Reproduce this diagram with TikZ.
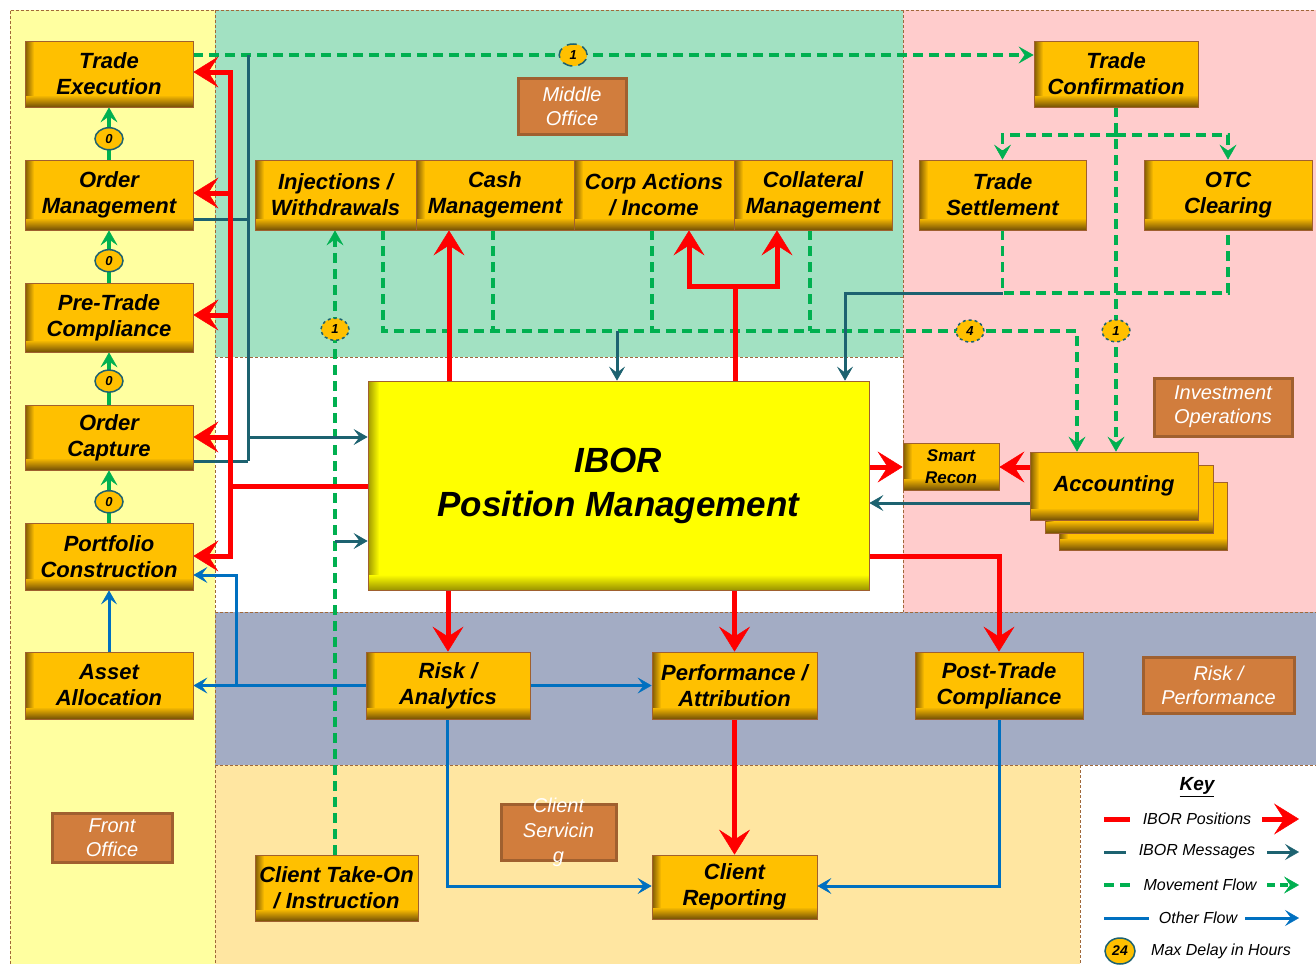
\documentclass[tikz,border=0pt]{standalone}
\usepackage{fontspec}
\setmainfont{Liberation Sans}
\usetikzlibrary{arrows.meta,shapes.geometric,calc}
\definecolor{frontc}{HTML}{FFFFA0}
\definecolor{midc}{HTML}{A2E1C2}
\definecolor{invc}{HTML}{FFCCCC}
\definecolor{riskc}{HTML}{A3ACC4}
\definecolor{clientc}{HTML}{FFE6A1}
\definecolor{regline}{HTML}{A0683A}
\definecolor{boxfill}{HTML}{FFC000}
\definecolor{boxsh}{HTML}{7F5A05}
\definecolor{boxline}{HTML}{A0602F}
\definecolor{iborfill}{HTML}{FFFF00}
\definecolor{iborsh}{HTML}{A09A00}
\definecolor{lblfill}{HTML}{D17D3D}
\definecolor{lblline}{HTML}{A0602F}
\definecolor{redc}{HTML}{FF0000}
\definecolor{tealc}{HTML}{1D6270}
\definecolor{greenc}{HTML}{00B050}
\definecolor{bluec}{HTML}{0070C0}
\pgfdeclarelayer{bg}
\pgfdeclarelayer{lines}
\pgfsetlayers{bg,lines,main}
\tikzset{
  region/.style={draw=regline, line width=1pt, densely dashed},
  box/.style 2 args={draw=boxline, line width=0.8pt, inner sep=0pt, align=center,
    fill=boxfill, minimum width=#1, minimum height=#2,
    font=\bfseries\itshape\fontsize{22}{26}\selectfont,
    path picture={
      \foreach \i [evaluate=\i as \p using {int(100-\i*11)}] in {0,...,8}
        \fill[boxsh!\p!boxfill] ([xshift=\i*1pt]path picture bounding box.south west) rectangle ([xshift=\i*1pt+1.2pt]path picture bounding box.north west);
      \foreach \i [evaluate=\i as \p using {int(100-\i*9)}] in {0,...,10}
        \fill[boxsh!\p!boxfill] ([yshift=\i*1pt]path picture bounding box.south west) rectangle ([yshift=\i*1pt+1.2pt]path picture bounding box.south east);}},
  iborbox/.style 2 args={draw=boxline, line width=0.8pt, inner sep=0pt, align=center,
    fill=iborfill, minimum width=#1, minimum height=#2,
    font=\bfseries\itshape\fontsize{35}{44}\selectfont,
    path picture={
      \foreach \i [evaluate=\i as \p using {int(100-\i*9)}] in {0,...,10}
        \fill[iborsh!\p!iborfill] ([xshift=\i*1pt]path picture bounding box.south west) rectangle ([xshift=\i*1pt+1.2pt]path picture bounding box.north west);
      \foreach \i [evaluate=\i as \p using {int(100-\i*7)}] in {0,...,14}
        \fill[iborsh!\p!iborfill] ([yshift=\i*1pt]path picture bounding box.south west) rectangle ([yshift=\i*1pt+1.2pt]path picture bounding box.south east);}},
  lbl/.style 2 args={fill=lblfill, draw=lblline, line width=3pt, minimum width=#1, minimum height=#2,
    inner sep=0pt, align=center, text=white, font=\itshape\fontsize{20}{24}\selectfont},
  lbltext/.style={inner sep=0pt, align=center, text=white, font=\itshape\fontsize{20}{25}\selectfont},
  badge/.style={ellipse, draw=tealc, line width=1.5pt, fill=boxfill, minimum width=28pt, minimum height=22pt,
    inner sep=0pt, font=\bfseries\itshape\fontsize{13}{13}\selectfont},
  redln/.style={draw=redc, line width=5pt},
  redarr/.style={redln, -{Stealth[length=25pt,width=31pt,inset=10pt,line width=0.5pt]}},
  tealln/.style={draw=tealc, line width=3pt},
  tealarr/.style={tealln, -{Stealth[length=14pt,width=16pt,inset=6pt,line width=0.5pt]}},
  greenln/.style={draw=greenc, line width=3.5pt, dash pattern=on 10pt off 6pt},
  greenarr/.style={greenln, -{Stealth[length=15pt,width=17pt,inset=6pt,line width=0.5pt]}},
  greensarr/.style={draw=greenc, line width=3.5pt, -{Stealth[length=15pt,width=17pt,inset=6pt,line width=0.5pt]}},
  blueln/.style={draw=bluec, line width=3pt},
  bluearr/.style={blueln, -{Stealth[length=14pt,width=16pt,inset=6pt,line width=0.5pt]}},
  keytext/.style={inner sep=0pt, font=\itshape\fontsize{16}{16}\selectfont},
}
\begin{document}
\begin{tikzpicture}[x=1pt,y=-1pt]
\useasboundingbox (0,0) rectangle (1316,964);
\begin{pgfonlayer}{bg}
  \fill[white] (0,0) rectangle (1316,964);
  \fill[frontc] (10,10) rectangle (215,964);
  \fill[midc] (215,10) rectangle (903,357);
  \fill[white] (215,357) rectangle (903,612);
  \fill[invc] (903,10) rectangle (1316,612);
  \fill[riskc] (215,612) rectangle (1316,765);
  \fill[clientc] (215,765) rectangle (1080,964);
  \fill[white] (1080,765) rectangle (1316,964);
  \draw[region] (10,964) -- (10,10) -- (1316,10);
  \draw[region] (215,10) -- (215,964);
  \draw[region] (903,10) -- (903,612);
  \draw[region] (215,357) -- (903,357);
  \draw[region] (215,612) -- (1316,612);
  \draw[region] (215,765) -- (1316,765);
  \draw[region] (1080,765) -- (1080,964);
\end{pgfonlayer}

% section labels
\node[lbl={108pt}{56pt}] (mo) at (572,106) {Middle\\Office};
\node[lbl={138pt}{58pt}] (io) at (1223,407) {Investment\\Operations};
\node[lbl={151pt}{56pt}] (rp) at (1218.5,685) {Risk /\\Performance};
\node[lbl={120pt}{49pt}] (fo) at (112,837.5) {Front\\Office};
\node[lbl={115pt}{56pt}] (cs) at (558.5,832) {};
\node[lbltext] (cst) at (cs.center) {Client\\Servicin\\g};

% boxes
\node[box={168pt}{66pt}] (te) at (109,74) {Trade\\Execution};
\node[box={168pt}{70pt}] (om) at (109,195) {Order\\Management};
\node[box={168pt}{69pt}] (ptc) at (109,317.5) {Pre-Trade\\Compliance};
\node[box={168pt}{65pt}] (oc) at (109,437.5) {Order\\Capture};
\node[box={168pt}{67pt}] (pc) at (109,556.5) {Portfolio\\Construction};
\node[box={168pt}{67pt}] (aa) at (109,685.5) {Asset\\Allocation};
\node[box={161pt}{70pt}] (iw) at (335.5,195) {Injections /\\Withdrawals};
\node[box={158pt}{70pt}] (cm) at (495,195) {Cash\\Management};
\node[box={160pt}{70pt}] (ca) at (654,195) {Corp Actions\\/ Income};
\node[box={158pt}{70pt}] (col) at (813,195) {Collateral\\Management};
\node[box={164pt}{66pt}] (tc) at (1116,74) {Trade\\Confirmation};
\node[box={167pt}{70pt}] (ts) at (1002.5,195) {Trade\\Settlement};
\node[box={168pt}{70pt}] (otc) at (1228,195) {OTC\\Clearing};
\node[iborbox={501pt}{209pt}] (ibor) at (618.5,485.5) {IBOR\\Position Management};
\node[box={96pt}{47pt}, font=\bfseries\itshape\fontsize{17}{22}\selectfont] (sr) at (951,466.5) {Smart\\Recon};
\node[box={168pt}{68pt}] (acc3) at (1143,516) {};
\node[box={168pt}{68pt}] (acc2) at (1129,499) {};
\node[box={168pt}{68pt}] (acc) at (1114,486) {Accounting};
\node[box={164pt}{67pt}] (ra) at (448,685.5) {Risk /\\Analytics};
\node[box={165pt}{67pt}] (pa) at (734.5,685.5) {Performance /\\Attribution};
\node[box={168pt}{67pt}] (ptrc) at (999,685.5) {Post-Trade\\Compliance};
\node[box={163pt}{66pt}] (cto) at (336.5,888) {Client Take-On\\/ Instruction};
\node[box={165pt}{64pt}] (cr) at (734.5,887) {Client\\Reporting};

\coordinate (rb) at (230,486);
\coordinate (cj) at (735,286);
\coordinate (mj) at (617,331);
\coordinate (tj) at (248,437);
\coordinate (ctj) at (335,541);
\coordinate (bj) at (236,685.5);

\begin{pgfonlayer}{lines}
% movement flow (green)
\draw[greenarr] (te.east|-0,55) -- node[badge,pos=0.452]{1} (tc.west|-0,55);
\draw[greenln] (tc.south) -- (tc.south|-0,135);
\draw[greenarr] (tc.south|-0,135) -| (ts.north);
\draw[greenarr] (tc.south|-0,135) -| (otc.north);
\draw[greenarr] (tc.south) -- node[badge,dashed,pos=0.649]{1} (tc.south|-acc.north);
\draw[greenln] (ts.south) |- (otc.south|-0,293) -- (otc.south);
\draw[greenarr] (iw.south-|383,0) -- (383,331) -| (acc.north-|1077,0);
\draw[greenln] (cm.south-|493,0) -- (493,331);
\draw[greenln] (ca.south-|652,0) -- (652,331);
\draw[greenln] (col.south-|810,0) -- (810,331);
\draw[greenarr] (cto.north-|335,0) -- node[badge,dashed,pos=0.8416]{1} (iw.south-|335,0);
\draw[greensarr] (om.north) -- node[badge,pos=0.4]{0} (te.south);
\draw[greensarr] (ptc.north) -- node[badge,pos=0.42]{0} (om.south);
\draw[greensarr] (oc.north) -- node[badge,pos=0.45]{0} (ptc.south);
\draw[greensarr] (pc.north) -- node[badge,pos=0.4]{0} (oc.south);
% IBOR messages (teal)
\draw[tealarr] (ts.south|-0,293) -| (ibor.north-|845,0);
\draw[tealarr] (mj) -- (ibor.north-|mj);
\draw[tealln] (om.east|-0,219) -- (248,219);
\draw[tealln] (oc.east|-0,461) -- (248,461);
\draw[tealln] (248,55) -- (248,461);
\draw[tealarr] (tj) -- (ibor.west|-tj);
\draw[tealarr] (ctj) -- (ibor.west|-ctj);
\draw[tealarr] (acc.west|-0,503) -- (ibor.east|-0,503);
% IBOR positions (red)
\draw[redln] (ibor.west|-rb) -- (rb);
\draw[redarr] (rb) |- (te.east|-0,72);
\draw[redarr] (rb) |- (pc.east|-0,556);
\draw[redarr] (rb|-0,193) -- (om.east|-0,193);
\draw[redarr] (rb|-0,315) -- (ptc.east|-0,315);
\draw[redarr] (rb|-0,437) -- (oc.east|-0,437);
\draw[redarr] (ibor.north-|449,0) -- (cm.south-|449,0);
\draw[redln] (ibor.north-|cj) -- (cj);
\draw[redarr] (cj) -| (ca.south-|689,0);
\draw[redarr] (cj) -| (col.south-|777,0);
\draw[redarr] (ibor.east|-0,467) -- (sr.west|-0,467);
\draw[redarr] (acc.west|-0,467) -- (sr.east|-0,467);
\draw[redarr] (ibor.east|-0,556) -| (ptrc.north);
\draw[redarr] (ibor.south-|ra.north) -- (ra.north);
\draw[redarr] (ibor.south-|pa.north) -- (pa.north);
\draw[redarr] (pa.south) -- (cr.north);
% other flow (blue)
\draw[bluearr] (aa.north) -- (pc.south);
\draw[bluearr] (ra.west) -- (aa.east);
\draw[bluearr] (bj) |- (pc.east|-0,575);
\draw[bluearr] (ra.east) -- (pa.west);
\draw[bluearr] (ra.south-|447,0) |- (cr.west|-0,886);
\draw[bluearr] (ptrc.south) |- (cr.east|-0,886);
\end{pgfonlayer}

\node[badge,dashed] (b4) at (970,331) {4};

% key
\node[inner sep=0pt, font=\bfseries\itshape\fontsize{19}{19}\selectfont] (keyt) at (1197,787) {\underline{Key}};
\draw[redln] (1104,819) -- (1130,819);
\node[keytext] (k1) at (1197,819) {IBOR Positions};
\draw[redarr] (1262,819) -- (1299,819);
\draw[tealln] (1104,852) -- (1126,852);
\node[keytext] (k2) at (1197,852) {IBOR Messages};
\draw[tealarr] (1267,852) -- (1299,852);
\draw[greenln, dash pattern=on 10pt off 6pt] (1104,885) -- (1130,885);
\node[keytext] (k3) at (1200,885) {Movement Flow};
\draw[greenarr, dash pattern=on 8pt off 5pt] (1267,885) -- (1299,885);
\draw[blueln] (1104,918) -- (1149,918);
\node[keytext] (k4) at (1198,918) {Other Flow};
\draw[bluearr] (1245,918) -- (1299,918);
\node[badge, minimum width=30pt, minimum height=26pt, font=\bfseries\itshape\fontsize{14}{14}\selectfont] (k5b) at (1120,951) {24};
\node[keytext] (k5) at (1221,951) {Max Delay in Hours};
\end{tikzpicture}
\end{document}
